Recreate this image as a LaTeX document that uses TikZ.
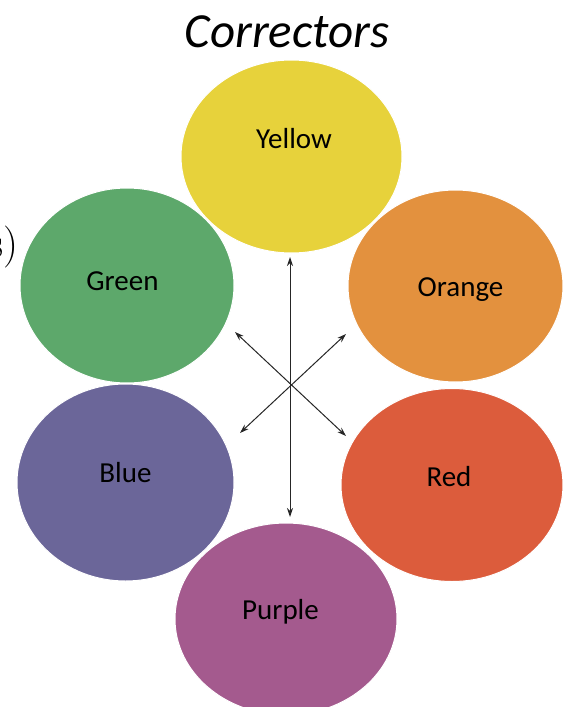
\documentclass[tikz,border=0pt]{standalone}
\usepackage{fontspec}
\newfontfamily\calfont{Carlito}
\usepackage{xcolor}
\usetikzlibrary{shapes,arrows.meta,positioning}
\definecolor{tintyellow}{HTML}{E7D23B}
\definecolor{tintgreen}{HTML}{5DA86B}
\definecolor{tintorange}{HTML}{E3913E}
\definecolor{tintblue}{HTML}{6B6699}
\definecolor{tintred}{HTML}{DC5C3C}
\definecolor{tintpurple}{HTML}{A45A8E}
\begin{document}
\begin{tikzpicture}[x=1pt,y=-1pt,
      blob/.style={ellipse,draw=white,line width=1pt,inner sep=0pt},
      tint/.style={font=\calfont\fontsize{29}{31}\selectfont,text=black,anchor=base},
      cross/.style={line width=1pt,draw=black!85,{Stealth[length=9pt,width=6pt]}-{Stealth[length=9pt,width=6pt]}}]
    \useasboundingbox (0,0) rectangle (569,707);
    \node[font=\calfont\itshape\fontsize{49}{52}\selectfont,anchor=base] (title) at (287,47) {{Correctors}};
    \node[font=\fontsize{42}{44}\selectfont,anchor=base east] (cut) at (22,257) {{s)}};
    \node[blob,fill=tintgreen,minimum width=214pt,minimum height=195pt] (green) at (127,285.5) {};
    \node[blob,fill=tintorange,minimum width=215pt,minimum height=192pt] (orange) at (455.5,286) {};
    \node[blob,fill=tintblue,minimum width=217pt,minimum height=197pt] (blue) at (125.5,482.5) {};
    \node[blob,fill=tintred,minimum width=222pt,minimum height=193pt] (red) at (452,485) {};
    \node[blob,fill=tintyellow,minimum width=221pt,minimum height=193pt] (yellow) at (291.5,156.5) {};
    \node[blob,fill=tintpurple,minimum width=222pt,minimum height=192pt] (purple) at (286,619) {};
    \node[tint] (yellowname) at (294,148) {{Yellow}};
    \node[tint] (greenname) at (122.5,290) {{Green}};
    \node[tint] (orangename) at (460.5,296) {{Orange}};
    \node[tint] (bluename) at (125.5,482) {{Blue}};
    \node[tint] (redname) at (449,486) {{Red}};
    \node[tint] (purplename) at (280.5,619) {{Purple}};
    \coordinate (yellowtip) at (290,257);
    \coordinate (purpletip) at (290,517);
    \coordinate (greentip) at (235,332);
    \coordinate (redtip) at (346,436);
    \coordinate (orangetip) at (346,334);
    \coordinate (bluetip) at (240,433);
    \draw[cross] (yellowtip) -- (purpletip);
    \draw[cross] (greentip) -- (redtip);
    \draw[cross] (orangetip) -- (bluetip);
\end{tikzpicture}
\end{document}
